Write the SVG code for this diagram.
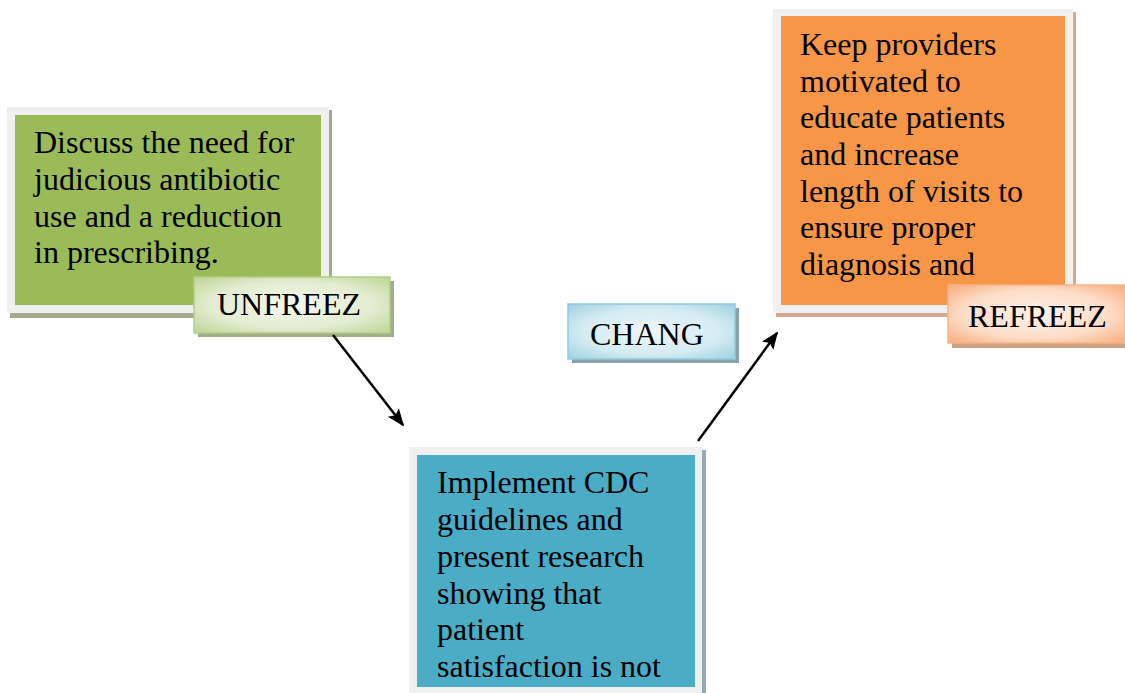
<svg xmlns="http://www.w3.org/2000/svg" width="1125" height="693" viewBox="0 0 1125 693">
<style>
text{font-family:"Liberation Serif","Times New Roman",serif;font-size:32px;fill:#000}
.frame{fill:#f0f0f0}
.conn{stroke:#000;stroke-width:2.5;fill:none;marker-end:url(#ah)}
</style>
<defs>
<marker id="ah" viewBox="0 0 10 10" refX="9" refY="5" markerWidth="7" markerHeight="7" orient="auto" markerUnits="strokeWidth"><path d="M0,1 L10,5 L0,9 L2,5 Z" fill="#000"/></marker>
<radialGradient id="gG" cx="50%" cy="50%" r="70%"><stop offset="0" stop-color="#f4f8ee"/><stop offset="0.6" stop-color="#e2ecd0"/><stop offset="1" stop-color="#bed495"/></radialGradient>
<radialGradient id="gB" cx="50%" cy="50%" r="70%"><stop offset="0" stop-color="#eef7fa"/><stop offset="0.6" stop-color="#d3ebf2"/><stop offset="1" stop-color="#9fd1df"/></radialGradient>
<radialGradient id="gO" cx="50%" cy="50%" r="70%"><stop offset="0" stop-color="#fef3ec"/><stop offset="0.6" stop-color="#fcdcc6"/><stop offset="1" stop-color="#f8ac7c"/></radialGradient>
</defs>
<g id="unfreeze-box">
<rect x="10" y="110" width="322" height="208" fill="#a3ab8c"/>
<rect class="frame" x="7" y="107" width="322" height="206"/>
<rect x="15" y="115" width="306" height="190" fill="#9bbb59"/>
<text x="34" y="153">Discuss the need for</text>
<text x="34" y="190">judicious antibiotic</text>
<text x="34" y="227">use and a reduction</text>
<text x="34" y="263">in prescribing.</text>
</g>
<g id="unfreeze-label">
<rect x="198" y="281" width="196" height="56" fill="#a1ad86"/>
<rect x="194" y="277" width="196" height="56" fill="url(#gG)" stroke="#b3cd86" stroke-width="1.5"/>
<text x="217" y="315">UNFREEZ</text>
</g>
<g id="change-label">
<rect x="572" y="308" width="167" height="55" fill="#89a4ad"/>
<rect x="568" y="304" width="167" height="55" fill="url(#gB)" stroke="#93cadb" stroke-width="1.5"/>
<text x="590" y="345">CHANG</text>
</g>
<g id="change-box">
<rect x="412" y="450" width="294" height="250" fill="#93a8b0"/>
<rect class="frame" x="409" y="447" width="293" height="250"/>
<rect x="417" y="455" width="278" height="232" fill="#4bacc6"/>
<text x="437" y="493">Implement CDC</text>
<text x="437" y="530">guidelines and</text>
<text x="437" y="567">present research</text>
<text x="437" y="604">showing that</text>
<text x="437" y="640">patient</text>
<text x="437" y="677">satisfaction is not</text>
</g>
<g id="refreeze-box">
<rect x="776" y="12" width="300" height="305" fill="#d3ab8e"/>
<rect class="frame" x="773" y="9" width="300" height="304"/>
<rect x="781" y="16" width="284" height="289" fill="#f79646"/>
<text x="800" y="55">Keep providers</text>
<text x="800" y="92">motivated to</text>
<text x="800" y="128">educate patients</text>
<text x="800" y="165">and increase</text>
<text x="800" y="202">length of visits to</text>
<text x="800" y="238">ensure proper</text>
<text x="800" y="275">diagnosis and</text>
</g>
<g id="refreeze-label">
<rect x="952" y="289" width="177" height="59" fill="#cfa283"/>
<rect x="948" y="285" width="177" height="58" fill="url(#gO)" stroke="#f5b48a" stroke-width="1.5"/>
<text x="968" y="327">REFREEZ</text>
</g>
<g id="connectors">
<line class="conn" x1="333" y1="335" x2="403" y2="425"/>
<line class="conn" x1="698" y1="441" x2="777" y2="333"/>
</g>
</svg>
